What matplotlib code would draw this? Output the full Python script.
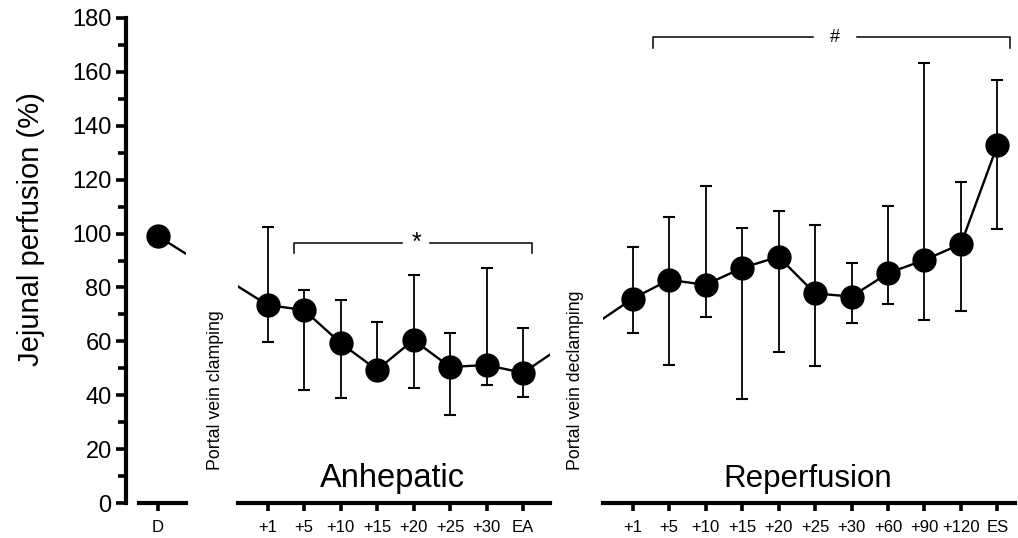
import matplotlib
matplotlib.use("Agg")
import matplotlib.pyplot as plt
import numpy as np

plt.rcParams['font.family'] = ['Liberation Sans', 'DejaVu Sans']

# ---- data ----
d_labels = ["D"]
d_mean = [99.0]

anh_labels = ["+1", "+5", "+10", "+15", "+20", "+25", "+30", "EA"]
anh_mean = [73.5, 71.6, 59.4, 49.4, 60.5, 50.5, 51.2, 48.3]
anh_upper = [102.4, 79.2, 75.5, 67.2, 84.6, 63.1, 87.2, 64.8]
anh_lower = [59.8, 41.9, 39.0, 46.0, 42.7, 32.7, 43.8, 39.4]

rep_labels = ["+1", "+5", "+10", "+15", "+20", "+25", "+30", "+60", "+90", "+120", "ES"]
rep_mean = [75.8, 82.8, 81.0, 87.2, 91.4, 77.8, 76.6, 85.3, 90.2, 96.1, 132.9]
rep_upper = [95.1, 106.0, 117.7, 102.2, 108.5, 103.2, 89.2, 110.2, 163.4, 119.2, 157.0]
rep_lower = [63.2, 51.2, 68.9, 38.6, 56.2, 51.0, 66.9, 73.9, 67.9, 71.3, 101.6]

anh_bracket_y = 96.6
rep_bracket_y = 172.9

# ---- layout (pixels) ----
W, H = 1018, 538
fig = plt.figure(figsize=(W / 100, H / 100), dpi=100)

x0_px, unit_px = 158.0, 36.5   # pixel of x=0 and pixels per x unit
y_bot_px, y_top_px = 503.0, 18.0

def px2x(p):
    return (p - x0_px) / unit_px

def make_ax(p1, p2):
    ax = fig.add_axes([p1 / W, (H - y_bot_px) / H, (p2 - p1) / W, (y_bot_px - y_top_px) / H])
    ax.set_xlim(px2x(p1), px2x(p2))
    ax.set_ylim(0, 180)
    for s in ['top', 'right', 'left']:
        ax.spines[s].set_visible(False)
    ax.spines['bottom'].set_linewidth(3.0)
    ax.patch.set_alpha(0)
    ax.tick_params(axis='x', length=6, width=2.6, labelsize=12, pad=6, direction='out')
    ax.set_yticks([])
    return ax

ax_d = make_ax(139, 186)
ax_a = make_ax(237.7, 550)
ax_r = make_ax(603, 1015)

# positions of the three groups on the common x scale
x_d = np.array([0.0])
x_a = 3 + np.arange(len(anh_labels))
x_r = 13 + np.arange(len(rep_labels))

all_x = np.concatenate([x_d, x_a, x_r])
all_y = np.concatenate([d_mean, anh_mean, rep_mean])

for ax in (ax_d, ax_a, ax_r):
    ax.plot(all_x, all_y, color='black', lw=1.7, zorder=3)
    ax.plot(all_x, all_y, 'o', color='black', ms=16.5, zorder=4)

def errs(mean, lower, upper):
    m = np.array(mean); lo = np.array(lower); up = np.array(upper)
    return np.vstack([m - lo, up - m])

ax_a.errorbar(x_a, anh_mean, yerr=errs(anh_mean, anh_lower, anh_upper), fmt='none',
              ecolor='black', elinewidth=1.3, capsize=4, capthick=1.5, zorder=2)
ax_r.errorbar(x_r, rep_mean, yerr=errs(rep_mean, rep_lower, rep_upper), fmt='none',
              ecolor='black', elinewidth=1.3, capsize=4, capthick=1.5, zorder=2)

ax_d.set_xticks(x_d)
ax_d.set_xticklabels(d_labels)
ax_a.set_xticks(x_a)
ax_a.set_xticklabels(anh_labels)
ax_r.set_xticks(x_r)
ax_r.set_xticklabels(rep_labels)

# y axis on the D panel
ax_d.spines['left'].set_visible(True)
ax_d.spines['left'].set_position(('outward', 9.7))
ax_d.spines['left'].set_linewidth(3.0)
ax_d.set_yticks(np.arange(0, 181, 20))
ax_d.set_yticks(np.arange(10, 180, 20), minor=True)
ax_d.tick_params(axis='y', which='major', length=7, width=2.6, labelsize=17, pad=3)
ax_d.tick_params(axis='y', which='minor', length=5.5, width=2.6)
ax_d.set_ylabel("Jejunal perfusion (%)", fontsize=21)
ax_d.yaxis.set_label_coords((45 - 139) / 47, (503 - 229) / 485)

# section titles
ax_a.text(px2x(392), 6.0, "Anhepatic", fontsize=23.5, ha='center', va='baseline')
ax_r.text(px2x(808), 6.0, "Reperfusion", fontsize=22.5, ha='center', va='baseline')

# rotated event labels
fig.text(215 / W, (H - 470) / H, "Portal vein clamping", rotation=90, fontsize=12.8,
         ha='center', va='bottom')
fig.text(575 / W, (H - 470) / H, "Portal vein declamping", rotation=90, fontsize=12.8,
         ha='center', va='bottom')

# significance brackets
def bracket(ax, xl, xr, y, gap_l, gap_r, sym, xs, fs):
    drop = 3.9
    kw = dict(color='black', lw=1.1, clip_on=False)
    ax.plot([xl, xl, gap_l], [y - drop, y, y], **kw)
    ax.plot([gap_r, xr, xr], [y, y, y - drop], **kw)
    ax.text(xs, y, sym, ha='center', va='center', fontsize=fs)

bracket(ax_a, px2x(294), px2x(531.7), anh_bracket_y, px2x(401.7), px2x(430), "*", px2x(416), 18)
bracket(ax_r, px2x(653), px2x(1010), rep_bracket_y, px2x(813), px2x(857), "#", px2x(835), 13)

fig.savefig("out.png", dpi=100)
